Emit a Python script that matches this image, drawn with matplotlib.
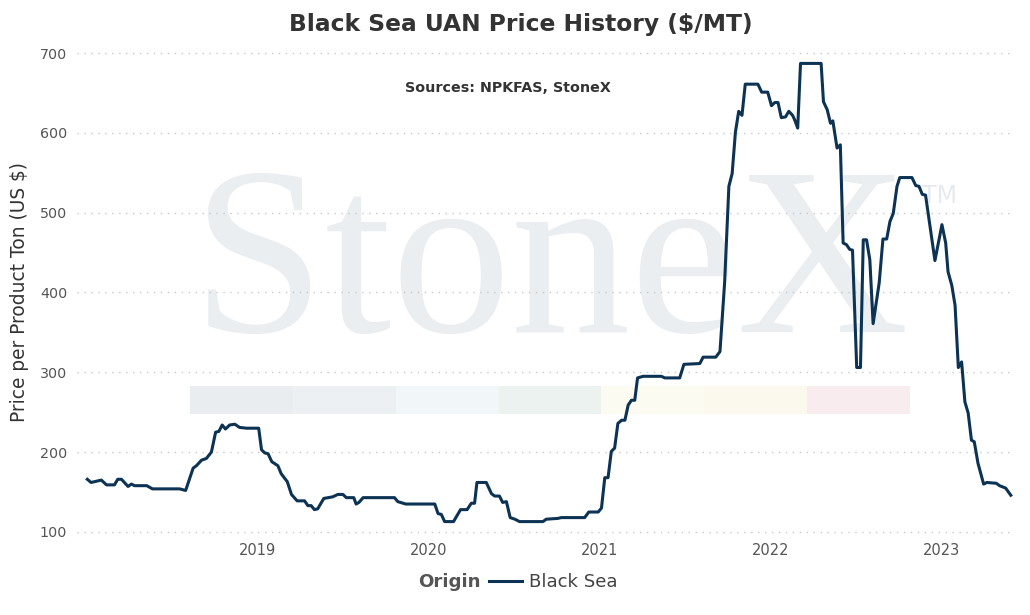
import matplotlib
matplotlib.use("Agg")
import matplotlib.pyplot as plt
import matplotlib.dates as mdates
from matplotlib.patches import Rectangle
import pandas as pd

# ---------------- data ----------------
dates = [
    "2018-01-03", "2018-01-11", "2018-02-02", "2018-02-13", "2018-03-02", "2018-03-09",
    "2018-03-17", "2018-03-31", "2018-04-07", "2018-04-14", "2018-05-10", "2018-05-22",
    "2018-07-19", "2018-08-01", "2018-08-17", "2018-08-24", "2018-09-04", "2018-09-14",
    "2018-09-25", "2018-10-04", "2018-10-11", "2018-10-18", "2018-10-25", "2018-11-03",
    "2018-11-14", "2018-11-24", "2018-12-09", "2019-01-04", "2019-01-10", "2019-01-17",
    "2019-01-24", "2019-02-01", "2019-02-14", "2019-02-21", "2019-03-06", "2019-03-15",
    "2019-03-27", "2019-04-12", "2019-04-19", "2019-04-26", "2019-05-03", "2019-05-10",
    "2019-05-23", "2019-06-01", "2019-06-11", "2019-06-22", "2019-07-03", "2019-07-10",
    "2019-07-26", "2019-07-31", "2019-08-06", "2019-08-15", "2019-10-21", "2019-10-28",
    "2019-11-14", "2020-01-15", "2020-01-22", "2020-01-29", "2020-02-05", "2020-02-24",
    "2020-03-10", "2020-03-24", "2020-04-02", "2020-04-09", "2020-04-14", "2020-05-04",
    "2020-05-15", "2020-05-22", "2020-06-01", "2020-06-08", "2020-06-16", "2020-06-24",
    "2020-07-04", "2020-07-14", "2020-09-02", "2020-09-09", "2020-10-04", "2020-10-11",
    "2020-11-30", "2020-12-09", "2020-12-29", "2021-01-05", "2021-01-12", "2021-01-19",
    "2021-01-26", "2021-02-02", "2021-02-09", "2021-02-17", "2021-02-24", "2021-03-03",
    "2021-03-10", "2021-03-17", "2021-03-23", "2021-04-04", "2021-05-13", "2021-05-20",
    "2021-06-21", "2021-06-30", "2021-08-03", "2021-08-10", "2021-09-06", "2021-09-15",
    "2021-09-25", "2021-10-04", "2021-10-11", "2021-10-18", "2021-10-25", "2021-11-01",
    "2021-11-08", "2021-12-05", "2021-12-13", "2021-12-26", "2022-01-03", "2022-01-10",
    "2022-01-17", "2022-01-24", "2022-02-02", "2022-02-09", "2022-02-17", "2022-02-21",
    "2022-02-28", "2022-03-06", "2022-04-19", "2022-04-24", "2022-05-02", "2022-05-09",
    "2022-05-14", "2022-05-23", "2022-05-30", "2022-06-05", "2022-06-12", "2022-06-19",
    "2022-06-25", "2022-07-04", "2022-07-12", "2022-07-18", "2022-07-25", "2022-08-01",
    "2022-08-08", "2022-08-21", "2022-08-29", "2022-09-06", "2022-09-13", "2022-09-20",
    "2022-09-28", "2022-10-04", "2022-10-30", "2022-11-07", "2022-11-14", "2022-11-21",
    "2022-11-28", "2022-12-18", "2023-01-02", "2023-01-10", "2023-01-15", "2023-01-23",
    "2023-01-30", "2023-02-06", "2023-02-13", "2023-02-20", "2023-02-27", "2023-03-06",
    "2023-03-12", "2023-03-20", "2023-04-01", "2023-04-08", "2023-04-28", "2023-05-05",
    "2023-05-18", "2023-05-29",
]
prices = [
    166, 162, 165, 159, 159, 166,
    166, 157, 160, 158, 158, 154,
    154, 152, 180, 183, 190, 192,
    200, 225, 226, 234, 229, 234,
    235, 231, 230, 230, 203, 199,
    198, 188, 183, 173, 163, 147,
    139, 139, 133, 133, 128, 129,
    142, 143, 144, 147, 147, 143,
    143, 135, 137, 143, 143, 138,
    135, 135, 123, 122, 113, 113,
    128, 128, 136, 136, 162, 162,
    148, 145, 145, 137, 138, 118,
    116, 113, 113, 116, 117, 118,
    118, 125, 125, 130, 168, 168,
    201, 205, 236, 240, 240, 259,
    265, 265, 293, 295, 295, 293,
    293, 310, 311, 319, 319, 326,
    413, 533, 549, 601, 627, 622,
    661, 661, 651, 651, 634, 638,
    638, 619, 620, 627, 622, 617,
    606, 687, 687, 639, 629, 612,
    615, 581, 585, 462, 460, 454,
    453, 306, 306, 466, 466, 441,
    361, 412, 467, 467, 489, 499,
    533, 544, 544, 534, 533, 523,
    522, 440, 485, 462, 426, 409,
    384, 306, 313, 263, 249, 215,
    213, 186, 160, 162, 161, 158,
    155, 146,
]
series_name = "Black Sea"
legend_title = "Origin"
y_ticks = [100, 200, 300, 400, 500, 600, 700]
x_tick_years = ["2019", "2020", "2021", "2022", "2023"]
title = "Black Sea UAN Price History ($/MT)"
subtitle = "Sources: NPKFAS, StoneX"
y_label = "Price per Product Ton (US $)"

# ---------------- figure ----------------
W, H = 1030, 615
fig = plt.figure(figsize=(W / 100, H / 100), dpi=100)
fig.patch.set_facecolor("white")

# background watermark (StoneX logo)
fig.text(192 / W, 1 - 332 / H, "StoneX", fontsize=172, family="Liberation Serif",
         color="#eaeef1", ha="left", va="baseline", zorder=-5)
fig.text(922 / W, 1 - 203 / H, "TM", fontsize=17, family="DejaVu Sans",
         color="#e6eaee", ha="left", va="baseline", zorder=-5)
band_colors = ["#e9edf0", "#ecf0f3", "#f1f6f9", "#ecf2ef", "#fbfbf1", "#fbf8ed", "#f8ecee"]
x0, seg = 190, (910 - 190) / 7
for i, c in enumerate(band_colors):
    fig.patches.append(Rectangle(((x0 + i * seg) / W, 1 - 414 / H), seg / W, 28 / H,
                                 transform=fig.transFigure, facecolor=c,
                                 edgecolor="none", zorder=-5))

ax = fig.add_axes([77 / W, 80 / H, (1015 - 77) / W, 485 / H])
ax.patch.set_alpha(0)
ax.set_zorder(5)

d = pd.to_datetime(dates)
ax.plot(d, prices, color="#0d3354", lw=2.2, solid_joinstyle="round", label=series_name,
        zorder=3)

ax.set_ylim(96.2, 703.8)
ax.set_xlim(pd.Timestamp("2017-12-12"), pd.Timestamp("2023-06-07"))
ax.set_yticks(y_ticks)
ax.set_xticks(pd.to_datetime([y + "-01-01" for y in x_tick_years]))
ax.xaxis.set_major_formatter(mdates.DateFormatter("%Y"))
ax.grid(axis="y", color="#c8c8c8", linestyle=(0, (1, 4)), linewidth=1.0)
ax.grid(axis="x", visible=False)
for s in ax.spines.values():
    s.set_visible(False)
ax.tick_params(axis="both", length=0)
ax.tick_params(axis="y", labelsize=10.3, labelcolor="#555555", pad=7)
ax.tick_params(axis="x", labelsize=10.5, labelcolor="#555555", pad=6)

fig.text(521 / W, 1 - 25 / H, title, fontsize=16.8, fontweight="bold", color="#333333",
         ha="center", va="center")
fig.text(508 / W, 1 - 88 / H, subtitle, fontsize=10.3, fontweight="bold", color="#333333",
         ha="center", va="center")
fig.text(20 / W, 1 - 292 / H, y_label, fontsize=13.4, color="#333333", rotation=90,
         ha="center", va="center")

fig.text(481 / W, 1 - 582 / H, legend_title, fontsize=13.1, fontweight="bold",
         color="#555555", ha="right", va="center")
leg = ax.legend(loc="center left", bbox_to_anchor=(489 / W, 1 - 582 / H),
                bbox_transform=fig.transFigure, frameon=False, fontsize=13.1,
                handlelength=1.8, handletextpad=0.38, borderpad=0, borderaxespad=0)
for t in leg.get_texts():
    t.set_color("#444444")

fig.savefig("out.png", dpi=100)
